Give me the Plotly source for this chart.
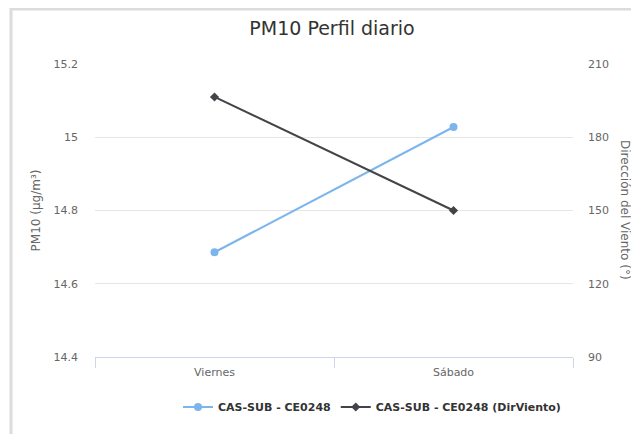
import plotly.graph_objects as go

categories = ["Viernes", "Sábado"]
pm10_values = [14.686, 15.028]
dir_viento_values = [196.5, 150.0]
left_ticks = [14.4, 14.6, 14.8, 15, 15.2]
right_ticks = [90, 120, 150, 180, 210]

FONT = "DejaVu Sans"

fig = go.Figure()
fig.add_trace(go.Scatter(
    x=categories, y=pm10_values, name="CAS-SUB - CE0248",
    mode="lines+markers", line=dict(color="#7cb5ec", width=2),
    marker=dict(symbol="circle", size=8, color="#7cb5ec"), yaxis="y"))
fig.add_trace(go.Scatter(
    x=categories, y=dir_viento_values, name="CAS-SUB - CE0248 (DirViento)",
    mode="lines+markers", line=dict(color="#434348", width=2),
    marker=dict(symbol="diamond", size=7, color="#434348"), yaxis="y2"))

# page has an 8px body margin: figure occupies page x 8..639, y 8..434
OFF = 8
W, H = 639 - OFF, 434 - OFF
L, R, T, B = 95 - OFF, 66, 64 - OFF, 77
pw, ph = W - L - R, H - T - B

def px_x(p):  # p in page pixels
    return (p - OFF - L) / pw

def px_y(p):
    return (H - B - (p - OFF)) / ph

fig.update_layout(
    width=W, height=H,
    margin=dict(l=L, r=R, t=T, b=B, autoexpand=False),
    paper_bgcolor="white", plot_bgcolor="white",
    font=dict(family=FONT, color="#666666", size=11),
    title=dict(text="PM10 Perfil diario", x=(332 - OFF) / W, xanchor="center",
               y=1 - (28 - OFF) / H, yanchor="middle",
               font=dict(family=FONT, size=19, color="#333333")),
    xaxis=dict(type="category", range=[-0.5, 1.5], showgrid=False,
               showline=True, linecolor="#ccd6eb", linewidth=1,
               ticks="outside", tickson="boundaries", ticklen=10,
               tickcolor="#ccd6eb", ticklabelstandoff=5,
               tickfont=dict(size=11, color="#666666"),
               zeroline=False),
    yaxis=dict(range=[14.4, 15.2], tickvals=left_ticks,
               ticktext=["14.4", "14.6", "14.8", "15", "15.2"],
               showgrid=True, gridcolor="#e6e6e6", gridwidth=1,
               zeroline=False, showline=False, ticks="",
               ticklabelstandoff=16,
               tickfont=dict(size=11, color="#666666"),
               title=dict(text="PM10 (µg/m³)", standoff=10,
                          font=dict(size=12, color="#666666"))),
    yaxis2=dict(range=[90, 210], tickvals=right_ticks, overlaying="y",
                side="right", showgrid=False, zeroline=False, ticks="",
                ticklabelstandoff=14,
                tickfont=dict(size=11, color="#666666")),
    annotations=[dict(text="Dirección del Viento (°)", textangle=90,
                      xref="paper", yref="paper", x=px_x(625), y=px_y(210),
                      xanchor="center", yanchor="middle", showarrow=False,
                      font=dict(family=FONT, size=12, color="#666666"))],
    showlegend=True,
    legend=dict(orientation="h", x=px_x(178), xanchor="left",
                y=px_y(407), yanchor="middle", itemwidth=30,
                font=dict(family=FONT, size=11, color="#333333", weight="bold"),
                bgcolor="rgba(0,0,0,0)"),
    shapes=[dict(type="rect", xref="paper", yref="paper",
                 x0=px_x(11), x1=px_x(700), y0=px_y(9), y1=px_y(500),
                 line=dict(color="#dcdcdc", width=3), layer="below")],
)

fig.write_html("out.html")
